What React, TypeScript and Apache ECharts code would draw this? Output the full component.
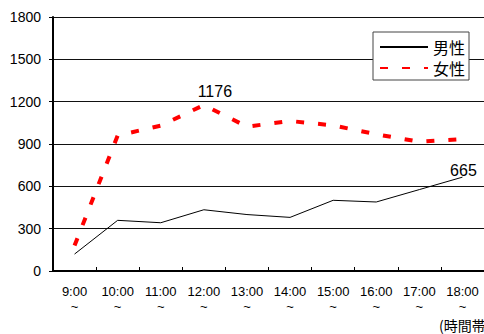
import React, { useEffect, useRef } from "react";
import * as echarts from "echarts";

const categories = ["9:00", "10:00", "11:00", "12:00", "13:00", "14:00", "15:00", "16:00", "17:00", "18:00"];
const maleValues = [120, 359, 342, 434, 400, 380, 501, 489, 577, 665];
const femaleValues = [180, 960, 1030, 1176, 1023, 1063, 1032, 969, 916, 935];
const yTicks = { min: 0, max: 1800, interval: 300 };
const labelledFemale = 3; // 1176
const labelledMale = 9; // 665

const NUM_FONT = "'Liberation Sans', Arial, sans-serif";
const CJK_FONT = "'Noto Sans CJK JP', 'Noto Sans', sans-serif";

export default function App() {
  const ref = useRef<HTMLDivElement>(null);
  useEffect(() => {
    if (!ref.current) return;
    const chart = echarts.init(ref.current, null, { renderer: "svg" });
    const maleData = maleValues.map((v, i) =>
      i === labelledMale
        ? { value: v, label: { show: true, position: "top", distance: 1, offset: [1, 2] } }
        : v
    );
    const femaleData = femaleValues.map((v, i) =>
      i === labelledFemale
        ? { value: v, label: { show: true, position: "top", distance: 6, offset: [11, 0] } }
        : v
    );
    chart.setOption({
      animation: false,
      backgroundColor: "#fff",
      grid: { left: 53, right: -4, top: 17, bottom: 63, containLabel: false },
      legend: {
        left: 373,
        top: 32,
        orient: "vertical",
        itemWidth: 48,
        itemHeight: 16,
        itemGap: 5,
        padding: [7, 4, 4, 6],
        backgroundColor: "#fff",
        borderColor: "#444",
        borderWidth: 1,
        borderRadius: 0,
        itemStyle: { opacity: 0 },
        textStyle: { fontSize: 16, lineHeight: 16, fontFamily: CJK_FONT, color: "#000" },
        data: ["男性", "女性"],
      },
      xAxis: {
        type: "category",
        data: categories,
        boundaryGap: true,
        axisLine: { show: true, lineStyle: { color: "#000", width: 2 } },
        axisTick: { show: true, inside: true, length: 4, interval: 0, lineStyle: { color: "#000", width: 1 } },
        axisLabel: {
          interval: 0,
          margin: 13,
          fontSize: 13,
          lineHeight: 15,
          color: "#000",
          fontFamily: NUM_FONT,
          formatter: (v: string) => v + "\n~",
        },
        splitLine: { show: false },
      },
      yAxis: {
        type: "value",
        min: yTicks.min,
        max: yTicks.max,
        interval: yTicks.interval,
        axisLine: { show: true, lineStyle: { color: "#000", width: 2 } },
        axisTick: { show: true, inside: false, length: 4, lineStyle: { color: "#000", width: 1 } },
        axisLabel: {
          margin: 12,
          fontSize: 14,
          color: "#000",
          fontFamily: NUM_FONT,
          formatter: (v: number) => String(v),
        },
        splitLine: { show: true, lineStyle: { color: "#111", width: 1 } },
      },
      graphic: [
        {
          type: "text",
          left: 439,
          top: 318,
          style: { text: "(時間帯)", fontSize: 14, fontFamily: CJK_FONT, fill: "#000" },
        },
      ],
      series: [
        {
          name: "男性",
          type: "line",
          data: maleData,
          symbol: "circle",
          symbolSize: 0,
          showSymbol: true,
          lineStyle: { color: "#000", width: 1 },
          itemStyle: { color: "#000" },
          label: { show: false, fontSize: 16, color: "#000", fontFamily: NUM_FONT },
          z: 3,
        },
        {
          name: "女性",
          type: "line",
          data: femaleData,
          symbol: "circle",
          symbolSize: 0,
          showSymbol: true,
          lineStyle: { color: "#ff0000", width: 4, type: [8, 14], cap: "butt" },
          itemStyle: { color: "#ff0000" },
          label: { show: false, fontSize: 16, color: "#000", fontFamily: NUM_FONT },
          z: 2,
        },
      ],
    });
    return () => chart.dispose();
  }, []);
  return <div ref={ref} style={{ width: 484, height: 334, position: "absolute", left: 0, top: 0 }} />;
}
